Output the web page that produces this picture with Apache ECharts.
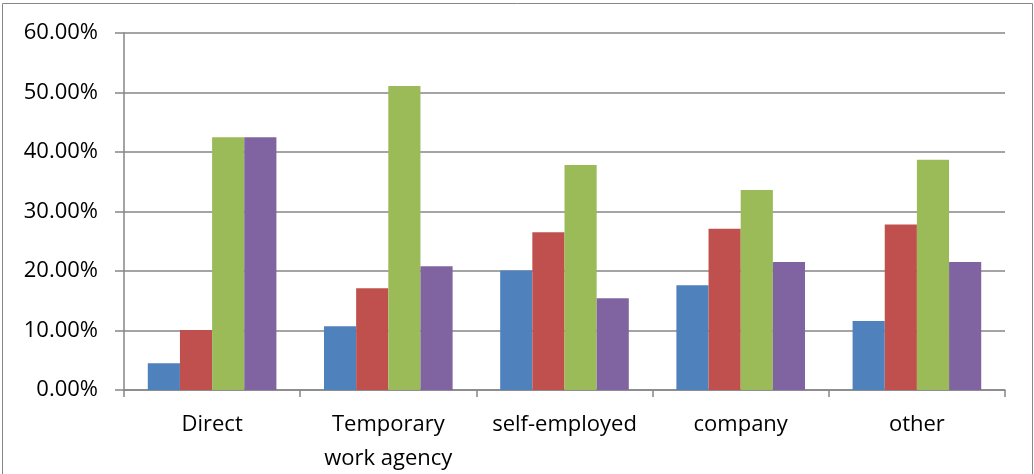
<!DOCTYPE html>
<html>
<head>
<meta charset="utf-8">
<script src="https://cdn.jsdelivr.net/npm/echarts@6/dist/echarts.min.js"></script>
<style>
html,body{margin:0;padding:0;background:#fff;}
#chart{width:1034px;height:474px;}
</style>
</head>
<body>
<div id="chart"></div>
<script>
const categories = ['Direct', 'Temporary\nwork agency', 'self-employed', 'company', 'other'];
const seriesBlue   = [0.045, 0.107, 0.201, 0.176, 0.116];
const seriesRed    = [0.101, 0.171, 0.265, 0.271, 0.278];
const seriesGreen  = [0.425, 0.511, 0.378, 0.336, 0.387];
const seriesPurple = [0.425, 0.208, 0.154, 0.215, 0.215];
const colors = ['#4F81BD', '#C0504D', '#9BBB59', '#8064A2'];

const chart = echarts.init(document.getElementById('chart'));
const font = '"Open Sans", Arial, sans-serif';
function mk(data, i) {
  return {
    type: 'bar', data: data, barGap: '0%', barCategoryGap: '27%',
    itemStyle: { color: colors[i] }, animation: false
  };
}
chart.setOption({
  animation: false,
  grid: { left: 124, right: 29, top: 33, bottom: 84, outerBoundsMode: 'none', containLabel: false },
  graphic: [{
    type: 'rect', silent: true,
    shape: { x: 2.5, y: 3.5, width: 1030, height: 500 },
    style: { fill: 'none', stroke: '#878787', lineWidth: 1 }
  }],
  xAxis: {
    type: 'category', data: categories,
    axisLine: { lineStyle: { color: '#868686', width: 1.5 } },
    axisTick: { show: true, length: 7, lineStyle: { color: '#868686', width: 1.5 } },
    axisLabel: { color: '#000', fontFamily: font, fontSize: 22, margin: 18, lineHeight: 34, interval: 0 }
  },
  yAxis: {
    type: 'value', min: 0, max: 0.6, interval: 0.1,
    axisLine: { show: true, lineStyle: { color: '#868686', width: 1.5 } },
    axisTick: { show: true, length: 9, lineStyle: { color: '#868686', width: 1.5 } },
    splitLine: { lineStyle: { color: '#868686', width: 1.5 } },
    axisLabel: { color: '#000', fontFamily: font, fontSize: 22, margin: 26,
      formatter: v => (v * 100).toFixed(2) + '%' }
  },
  series: [mk(seriesBlue, 0), mk(seriesRed, 1), mk(seriesGreen, 2), mk(seriesPurple, 3)]
});
</script>
</body>
</html>
